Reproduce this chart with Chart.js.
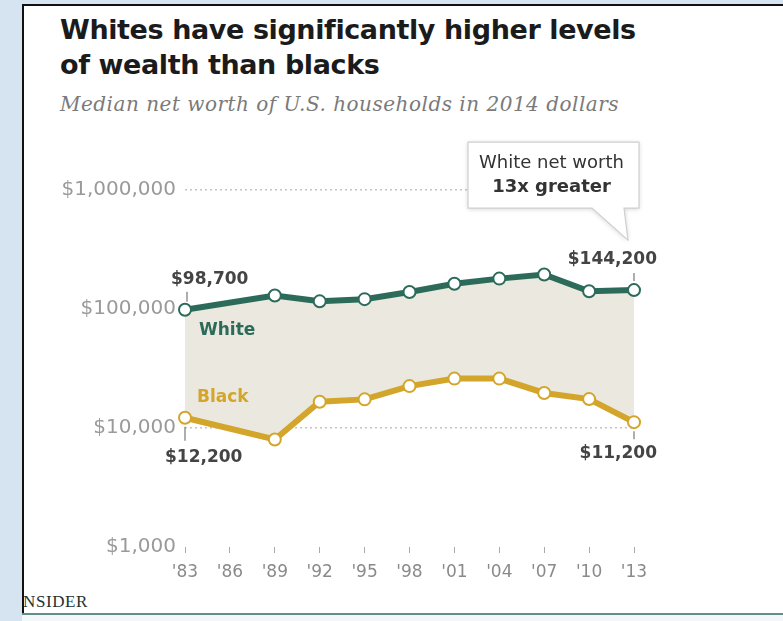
<!DOCTYPE html>
<html>
<head>
<meta charset="utf-8">
<script src="https://cdn.jsdelivr.net/npm/chart.js@4"></script>
<style>
  html, body { margin: 0; padding: 0; }
  body { width: 783px; height: 621px; background: #d6e4f1; position: relative; overflow: hidden; }
  #marco {
    position: absolute; left: 22px; top: 4px; width: 761px; height: 617px;
    background: #fff; border-left: 2px solid #111; border-top: 2px solid #111; box-sizing: border-box;
  }
  #pie { position: absolute; left: 22px; top: 613px; width: 761px; height: 8px; background: #f3f7f9; border-top: 2px solid #5f8f88; }
  #titulo {
    position: absolute; left: 60px; top: 12px; margin: 0;
    font: bold 27px "DejaVu Sans", sans-serif; line-height: 35px; color: #1b1b1b; letter-spacing: -0.4px;
  }
  #subtitulo {
    position: absolute; left: 60px; top: 92px; margin: 0;
    font: italic 20px "DejaVu Serif", serif; line-height: 24px; color: #7a7a7a; letter-spacing: 0.5px;
  }
  #marca {
    position: absolute; left: 23px; top: 592px;
    font: 17px "Liberation Serif", serif; color: #26302f; letter-spacing: 0.6px;
  }
  #grafico { position: absolute; left: 0; top: 0; }
</style>
</head>
<body>
<div id="marco"></div>
<div id="pie"></div>
<h1 id="titulo">Whites have significantly higher levels<br>of wealth than blacks</h1>
<p id="subtitulo">Median net worth of U.S. households in 2014 dollars</p>
<div id="marca">NSIDER</div>
<canvas id="grafico" width="783" height="621"></canvas>

<script>
// Datos (mediana del patrimonio neto, dólares de 2014)
const anios = ["'83", "'86", "'89", "'92", "'95", "'98", "'01", "'04", "'07", "'10", "'13"];
const blancos = [98700, null, 130000, 116000, 121000, 139000, 163000, 180000, 195000, 141000, 144200];
const negros = [12200, null, 8000, 16600, 17400, 22500, 26000, 26000, 19700, 17500, 11200];
const marcasY = [1000, 10000, 100000, 1000000];

const VERDE = "#2c6b5a";
const DORADO = "#d3a52a";

function dinero(v) {
  return "$" + v.toLocaleString("en-US");
}

// Etiquetas, rayitas y recuadro sobre el gráfico
const anotaciones = {
  id: "anotaciones",
  afterDatasetsDraw(chart) {
    const ctx = chart.ctx;
    const pb = chart.getDatasetMeta(0).data;
    const pn = chart.getDatasetMeta(1).data;
    const ultimo = anios.length - 1;

    ctx.save();
    // rayitas
    ctx.strokeStyle = "#777";
    ctx.lineWidth = 1.2;
    const raya = (x, y1, y2) => {
      ctx.beginPath(); ctx.moveTo(x, y1); ctx.lineTo(x, y2); ctx.stroke();
    };
    raya(pb[0].x + 2, pb[0].y - 18, pb[0].y - 8);
    raya(pb[ultimo].x, pb[ultimo].y - 17, pb[ultimo].y - 9);
    raya(pn[0].x, pn[0].y + 9, pn[0].y + 23);
    raya(pn[ultimo].x, pn[ultimo].y + 9, pn[ultimo].y + 17);

    // valores
    ctx.fillStyle = "#444";
    ctx.font = "bold 17px 'DejaVu Sans'";
    ctx.textBaseline = "middle";
    ctx.textAlign = "left";
    ctx.fillText(dinero(blancos[0]), pb[0].x - 14, pb[0].y - 30);
    ctx.fillText(dinero(negros[0]), pn[0].x - 20, pn[0].y + 40);
    ctx.textAlign = "right";
    ctx.fillText(dinero(blancos[ultimo]), pb[ultimo].x + 23, pb[ultimo].y - 31);
    ctx.fillText(dinero(negros[ultimo]), pn[ultimo].x + 23, pn[ultimo].y + 31);

    // nombres de las series
    ctx.textAlign = "left";
    ctx.fillStyle = VERDE;
    ctx.fillText("White", pb[0].x + 14, pb[0].y + 21);
    ctx.fillStyle = DORADO;
    ctx.fillText("Black", pb[0].x + 12, pn[0].y - 20);
    ctx.restore();
  },
  afterDraw(chart) {
    const ctx = chart.ctx;
    const p = chart.getDatasetMeta(0).data[anios.length - 1];
    const der = p.x + 5, izq = p.x - 166, arr = p.y - 148, aba = p.y - 82;
    ctx.save();
    ctx.beginPath();
    ctx.moveTo(izq, arr);
    ctx.lineTo(der, arr);
    ctx.lineTo(der, aba);
    ctx.lineTo(p.x - 10, aba);
    ctx.lineTo(p.x - 6, p.y - 50);
    ctx.lineTo(p.x - 42, aba);
    ctx.lineTo(izq, aba);
    ctx.closePath();
    ctx.shadowColor = "rgba(0,0,0,0.18)";
    ctx.shadowBlur = 5;
    ctx.shadowOffsetY = 1;
    ctx.fillStyle = "#fff";
    ctx.fill();
    ctx.shadowColor = "transparent";
    ctx.strokeStyle = "#cfcfcf";
    ctx.lineWidth = 1.2;
    ctx.stroke();

    const cx = (izq + der) / 2 - 2;
    ctx.fillStyle = "#333";
    ctx.textAlign = "center";
    ctx.textBaseline = "alphabetic";
    ctx.font = "18px 'DejaVu Sans'";
    ctx.fillText("White net worth", cx, arr + 26);
    ctx.font = "bold 18px 'DejaVu Sans'";
    ctx.fillText("13x greater", cx, arr + 50);
    ctx.restore();
  }
};

new Chart(document.getElementById("grafico"), {
  type: "line",
  data: {
    labels: anios,
    datasets: [
      {
        label: "White",
        data: blancos,
        borderColor: VERDE,
        borderWidth: 6,
        backgroundColor: "#ebe9df",
        fill: "+1",
        pointRadius: 6,
        pointBorderWidth: 2,
        pointBackgroundColor: "#fff",
        pointBorderColor: VERDE,
        spanGaps: true,
        clip: false,
        tension: 0,
      },
      {
        label: "Black",
        data: negros,
        borderColor: DORADO,
        borderWidth: 6,
        fill: false,
        pointRadius: 6,
        pointBorderWidth: 2,
        pointBackgroundColor: "#fff",
        pointBorderColor: DORADO,
        spanGaps: true,
        clip: false,
        tension: 0,
      },
    ],
  },
  options: {
    responsive: false,
    animation: false,
    layout: { padding: { left: 0, right: 149, top: 190, bottom: 34 } },
    plugins: {
      legend: { display: false },
      tooltip: { enabled: false },
      filler: { drawTime: "beforeDatasetsDraw" },
    },
    scales: {
      x: {
        offset: false,
        border: { display: false },
        grid: { drawOnChartArea: false, drawTicks: true, tickLength: 6, color: "#aaa" },
        ticks: { color: "#8a8a8a", font: { family: "DejaVu Sans", size: 17 }, padding: 9, maxRotation: 0, autoSkip: false },
        afterFit(scale) { scale.height = 40; },
      },
      y: {
        type: "logarithmic",
        min: 1000,
        max: 1000000,
        border: { display: false, dash: [2, 3] },
        grid: {
          drawTicks: false,
          lineWidth: 1.5,
          color: (c) => (c.tick && c.tick.value === 1000 ? "rgba(0,0,0,0)" : "#c4c4c4"),
        },
        afterBuildTicks(scale) {
          scale.ticks = marcasY.map((v) => ({ value: v }));
        },
        ticks: {
          color: "#9a9a9a",
          font: { family: "DejaVu Sans", size: 20 },
          padding: 9,
          callback: (v) => dinero(v),
        },
        afterFit(scale) { scale.width = 185; },
      },
    },
  },
  plugins: [anotaciones],
});
</script>
</body>
</html>
